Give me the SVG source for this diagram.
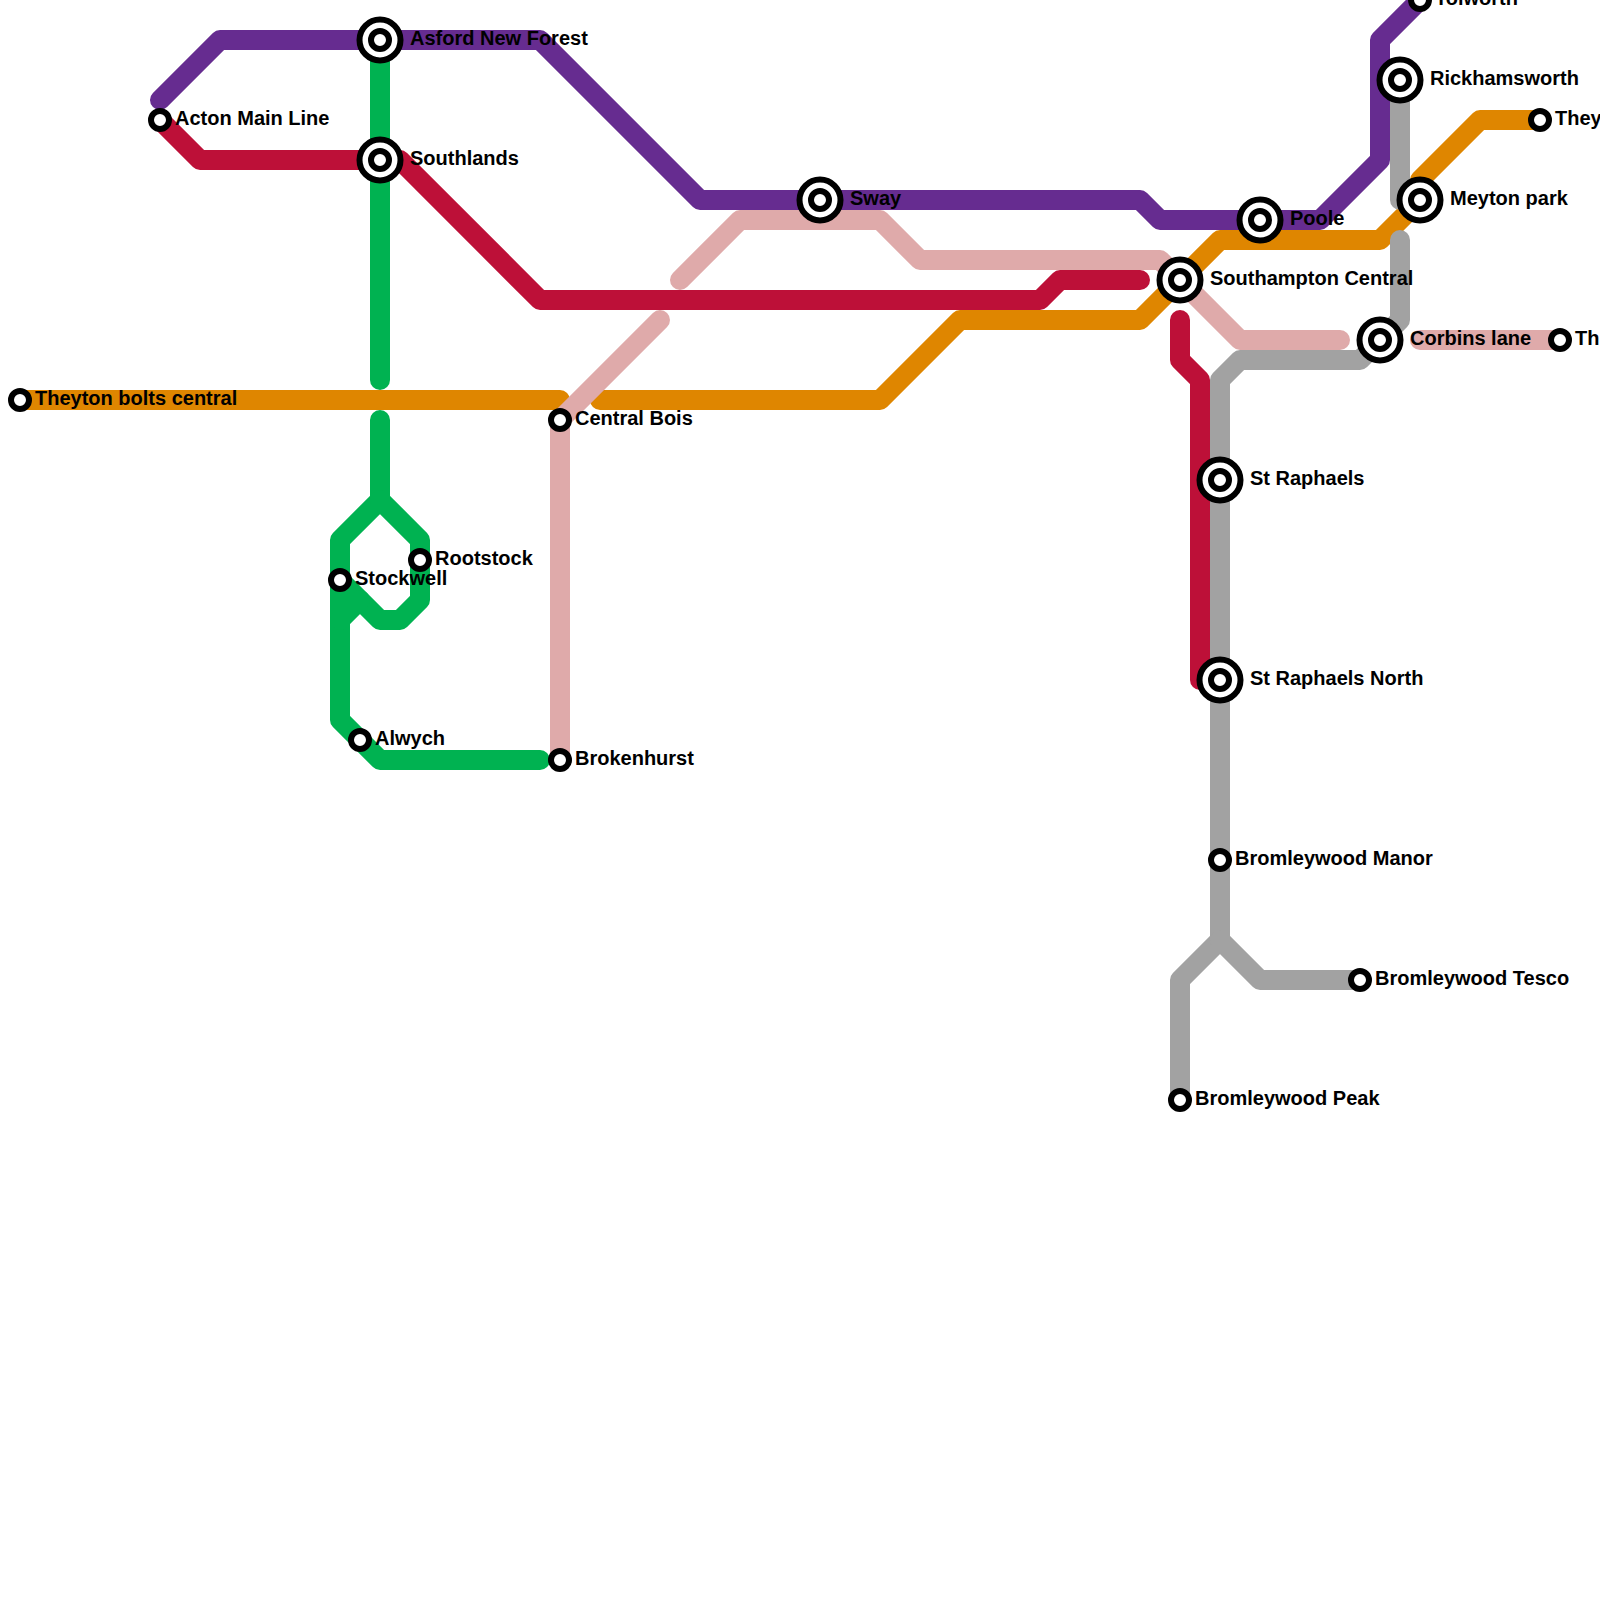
<svg xmlns="http://www.w3.org/2000/svg" width="1600" height="1600" viewBox="0 0 1600 1600">
<style>
.l{fill:none;stroke-width:20;stroke-linecap:round;stroke-linejoin:round}
.o{stroke:#df8600}.g{stroke:#00b251}.p{stroke:#662c90}.r{stroke:#bd1038}.k{stroke:#dfaaaa}.y{stroke:#a2a2a2}
.ring{fill:#fff;stroke:#000;stroke-width:6}
.big{fill:#fff;stroke:#000;stroke-width:6}
text{font-family:"Liberation Sans",Arial,sans-serif;font-weight:700;font-size:20px;fill:#000}
</style>
<rect width="1600" height="1600" fill="#fff"/>
<g id="connectors">
<path class="l o" d="M20 400H560"/>
<path class="l o" d="M600 400H880L960 320H1140L1220 240H1380L1420 200V180L1480 120H1540"/>
<path class="l g" d="M380 40V380"/>
<path class="l g" d="M380 420V500L340 540V720L380 760H540"/>
<path class="l g" d="M380 500L420 540V600L400 620H380L340 580"/>
<path class="l g" d="M340 620L360 600"/>
<path class="l p" d="M160 100L220 40H540L700 200H1140L1160 220H1320L1380 160V40L1420 0"/>
<path class="l r" d="M160 120L200 160H400L540 300H1040L1060 280H1140"/>
<path class="l r" d="M1180 320V360L1200 380V680H1220"/>
<path class="l k" d="M680 280L740 220H880L920 260H1160L1240 340H1340"/>
<path class="l k" d="M1420 340H1560"/>
<path class="l k" d="M660 320L560 420V760"/>
<path class="l y" d="M1400 80V200H1420"/>
<path class="l y" d="M1400 240V320L1360 360H1240L1220 380V940L1180 980V1100"/>
<path class="l y" d="M1220 940L1260 980H1360"/>
</g>
<g id="st-theyton-bolts"><circle class="ring" cx="20" cy="400" r="9"/><text x="35" y="405">Theyton bolts central</text></g>
<g id="st-acton"><circle class="ring" cx="160" cy="120" r="9"/><text x="175" y="125">Acton Main Line</text></g>
<g id="st-asford"><circle class="big" cx="380" cy="40" r="20.5"/><circle class="ring" cx="380" cy="40" r="9"/><text x="410" y="45">Asford New Forest</text></g>
<g id="st-southlands"><circle class="big" cx="380" cy="160" r="20.5"/><circle class="ring" cx="380" cy="160" r="9"/><text x="410" y="165">Southlands</text></g>
<g id="st-central-bois"><circle class="ring" cx="560" cy="420" r="9"/><text x="575" y="425">Central Bois</text></g>
<g id="st-brokenhurst"><circle class="ring" cx="560" cy="760" r="9"/><text x="575" y="765">Brokenhurst</text></g>
<g id="st-rootstock"><circle class="ring" cx="420" cy="560" r="9"/><text x="435" y="565">Rootstock</text></g>
<g id="st-stockwell"><circle class="ring" cx="340" cy="580" r="9"/><text x="355" y="585">Stockwell</text></g>
<g id="st-alwych"><circle class="ring" cx="360" cy="740" r="9"/><text x="375" y="745">Alwych</text></g>
<g id="st-sway"><circle class="big" cx="820" cy="200" r="20.5"/><circle class="ring" cx="820" cy="200" r="9"/><text x="850" y="205">Sway</text></g>
<g id="st-poole"><circle class="big" cx="1260" cy="220" r="20.5"/><circle class="ring" cx="1260" cy="220" r="9"/><text x="1290" y="225">Poole</text></g>
<g id="st-southampton"><circle class="big" cx="1180" cy="280" r="20.5"/><circle class="ring" cx="1180" cy="280" r="9"/><text x="1210" y="285">Southampton Central</text></g>
<g id="st-tolworth"><circle class="ring" cx="1420" cy="0" r="9"/><text x="1435" y="5">Tolworth</text></g>
<g id="st-rickhamsworth"><circle class="big" cx="1400" cy="80" r="20.5"/><circle class="ring" cx="1400" cy="80" r="9"/><text x="1430" y="85">Rickhamsworth</text></g>
<g id="st-they"><circle class="ring" cx="1540" cy="120" r="9"/><text x="1555" y="125">They</text></g>
<g id="st-meyton"><circle class="big" cx="1420" cy="200" r="20.5"/><circle class="ring" cx="1420" cy="200" r="9"/><text x="1450" y="205">Meyton park</text></g>
<g id="st-corbins"><circle class="big" cx="1380" cy="340" r="20.5"/><circle class="ring" cx="1380" cy="340" r="9"/><text x="1410" y="345">Corbins lane</text></g>
<g id="st-th"><circle class="ring" cx="1560" cy="340" r="9"/><text x="1575" y="345">Th</text></g>
<g id="st-raphaels"><circle class="big" cx="1220" cy="480" r="20.5"/><circle class="ring" cx="1220" cy="480" r="9"/><text x="1250" y="485">St Raphaels</text></g>
<g id="st-raphaels-north"><circle class="big" cx="1220" cy="680" r="20.5"/><circle class="ring" cx="1220" cy="680" r="9"/><text x="1250" y="685">St Raphaels North</text></g>
<g id="st-manor"><circle class="ring" cx="1220" cy="860" r="9"/><text x="1235" y="865">Bromleywood Manor</text></g>
<g id="st-tesco"><circle class="ring" cx="1360" cy="980" r="9"/><text x="1375" y="985">Bromleywood Tesco</text></g>
<g id="st-peak"><circle class="ring" cx="1180" cy="1100" r="9"/><text x="1195" y="1105">Bromleywood Peak</text></g>
</svg>
